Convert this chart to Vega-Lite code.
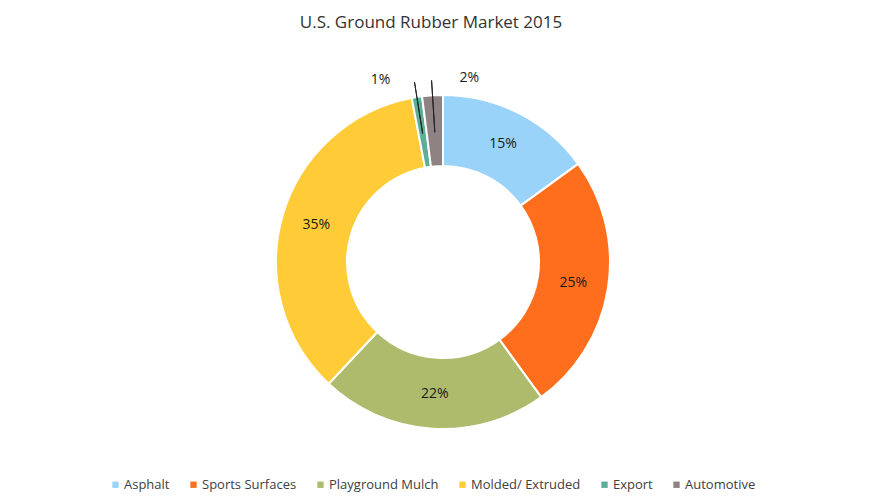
{
  "$schema": "https://vega.github.io/schema/vega-lite/v6.json",
  "width": 854,
  "height": 424,
  "autosize": {"type": "none"},
  "padding": {"left": 16, "top": 50, "right": 0, "bottom": 26},
  "background": "white",
  "config": {"view": {"stroke": null}},
  "title": {
    "text": "U.S. Ground Rubber Market 2015",
    "font": "Open Sans",
    "fontSize": 17,
    "fontWeight": "normal",
    "color": "#333333",
    "anchor": "middle",
    "offset": 18,
    "dx": -12
  },
  "data": {
    "values": [
      {"category": "Asphalt", "share": 0.15, "rank": 1},
      {"category": "Sports Surfaces", "share": 0.25, "rank": 2},
      {"category": "Playground Mulch", "share": 0.22, "rank": 3},
      {"category": "Molded/ Extruded", "share": 0.35, "rank": 4},
      {"category": "Export", "share": 0.01, "rank": 5},
      {"category": "Automotive", "share": 0.02, "rank": 6}
    ]
  },
  "encoding": {
    "theta": {"field": "share", "type": "quantitative", "stack": true},
    "order": {"field": "rank", "type": "quantitative"},
    "detail": {"field": "category", "type": "nominal"}
  },
  "layer": [
    {
      "mark": {"type": "arc", "outerRadius": 167, "innerRadius": 96, "stroke": "white", "strokeWidth": 2},
      "encoding": {
        "color": {
          "field": "category",
          "type": "nominal",
          "scale": {
            "domain": ["Asphalt", "Sports Surfaces", "Playground Mulch", "Molded/ Extruded", "Export", "Automotive"],
            "range": ["#99D3F9", "#FF6E1C", "#AEBB6D", "#FFCB36", "#5BAF97", "#8E8282"]
          },
          "legend": {
            "orient": "none",
            "legendX": 93,
            "legendY": 428,
            "direction": "horizontal",
            "title": null,
            "symbolType": "square",
            "symbolSize": 40,
            "symbolStrokeWidth": 0,
            "labelFont": "Open Sans",
            "labelFontSize": 13,
            "labelColor": "#404040",
            "labelOffset": 2,
            "columnPadding": 17
          }
        }
      }
    },
    {
      "mark": {"type": "arc", "outerRadius": 182, "innerRadius": 130, "padAngle": 0.6, "fill": "transparent", "stroke": "#222222", "strokeWidth": 1},
      "encoding": {
        "strokeOpacity": {"condition": {"test": "datum.share < 0.05", "value": 1}, "value": 0}
      }
    },
    {
      "mark": {"type": "text", "radius": 132, "font": "Open Sans", "fontSize": 14, "color": "#1a1a1a"},
      "encoding": {
        "text": {"condition": {"test": "datum.share >= 0.05", "field": "share", "type": "quantitative", "format": ".0%"}, "value": ""}
      }
    },
    {
      "mark": {"type": "text", "radius": 184, "font": "Open Sans", "fontSize": 14, "color": "#1a1a1a", "align": "right", "dx": -24},
      "encoding": {
        "text": {"condition": {"test": "datum.category === 'Export'", "field": "share", "type": "quantitative", "format": ".0%"}, "value": ""}
      }
    },
    {
      "mark": {"type": "text", "radius": 184, "font": "Open Sans", "fontSize": 14, "color": "#1a1a1a", "align": "left", "dx": 28},
      "encoding": {
        "text": {"condition": {"test": "datum.category === 'Automotive'", "field": "share", "type": "quantitative", "format": ".0%"}, "value": ""}
      }
    }
  ]
}
